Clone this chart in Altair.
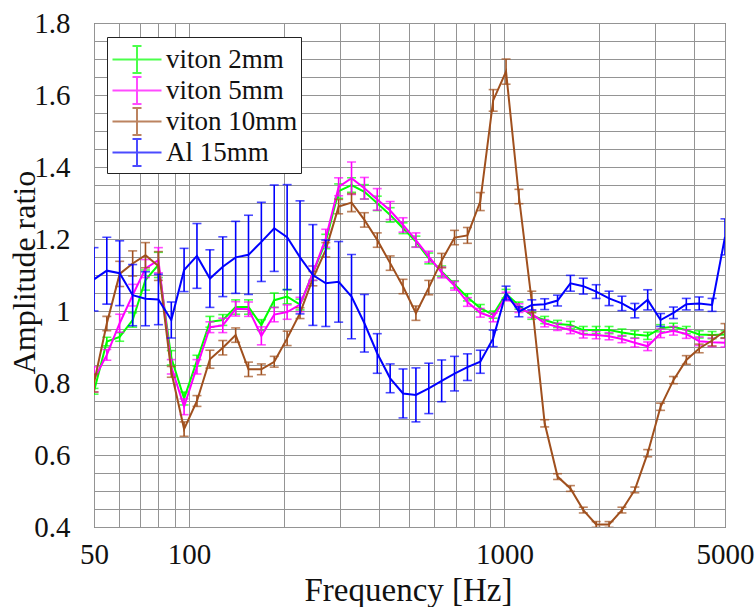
import altair as alt
import pandas as pd

# ---------------- data ----------------
freq = [50, 54.9, 60.3, 66.3, 72.8, 80.0, 87.9, 96.5, 106.0, 116.5,
        128.0, 140.6, 154.4, 169.6, 186.3, 204.7, 224.9, 247.0, 271.4, 298.1,
        327.5, 359.8, 395.2, 434.2, 477.0, 524.0, 575.6, 632.3, 694.6, 763.1,
        838.2, 920.8, 1011.5, 1111.2, 1220.7, 1341.0, 1473.1, 1618.2, 1777.7, 1952.9,
        2145.3, 2356.7, 2588.9, 2844.0, 3124.2, 3432.0, 3770.2, 4141.7, 4549.8, 5000]

series_names = ["viton 2mm", "viton 5mm", "viton 10mm", "Al 15mm"]
series_colors = ["#00ff00", "#ff00ff", "#a0501e", "#0000ff"]

viton2 = [0.777, 0.915, 0.928, 0.975, 1.086, 1.128, 0.870, 0.757, 0.862, 0.970,
          0.975, 1.011, 1.011, 0.961, 1.030, 1.040, 1.018, 1.105, 1.193, 1.333,
          1.350, 1.331, 1.299, 1.267, 1.230, 1.193, 1.146, 1.110, 1.074, 1.038,
          1.008, 0.990, 1.048, 1.015, 0.987, 0.975, 0.964, 0.961, 0.947, 0.947,
          0.947, 0.940, 0.935, 0.931, 0.952, 0.956, 0.947, 0.935, 0.933, 0.935]
viton2_err = [0.008, 0.012, 0.012, 0.020, 0.028, 0.035, 0.020, 0.018, 0.015, 0.015,
              0.015, 0.020, 0.020, 0.015, 0.020, 0.020, 0.015, 0.020, 0.020, 0.020,
              0.020, 0.020, 0.020, 0.020, 0.015, 0.015, 0.015, 0.015, 0.010, 0.010,
              0.010, 0.010, 0.012, 0.010, 0.010, 0.010, 0.010, 0.010, 0.010, 0.010,
              0.010, 0.010, 0.010, 0.010, 0.010, 0.010, 0.010, 0.010, 0.010, 0.010]

viton5 = [0.810, 0.878, 0.966, 1.044, 1.118, 1.141, 0.845, 0.734, 0.845, 0.955,
          0.960, 1.006, 1.005, 0.931, 0.990, 0.997, 1.018, 1.105, 1.202, 1.345,
          1.369, 1.341, 1.310, 1.279, 1.239, 1.197, 1.151, 1.107, 1.070, 1.025,
          0.995, 0.982, 1.040, 1.008, 0.992, 0.966, 0.956, 0.947, 0.935, 0.933,
          0.930, 0.922, 0.912, 0.902, 0.938, 0.945, 0.936, 0.916, 0.913, 0.912]
viton5_err = [0.035, 0.015, 0.025, 0.030, 0.025, 0.035, 0.020, 0.022, 0.020, 0.015,
              0.020, 0.020, 0.020, 0.025, 0.020, 0.020, 0.020, 0.020, 0.025, 0.025,
              0.045, 0.030, 0.030, 0.025, 0.020, 0.020, 0.015, 0.015, 0.012, 0.012,
              0.012, 0.012, 0.012, 0.012, 0.010, 0.010, 0.010, 0.010, 0.010, 0.010,
              0.010, 0.010, 0.012, 0.012, 0.012, 0.012, 0.012, 0.012, 0.012, 0.012]

viton10 = [0.800, 0.965, 1.103, 1.132, 1.155, 1.125, 0.831, 0.672, 0.750, 0.866,
           0.898, 0.933, 0.838, 0.838, 0.859, 0.924, 0.994, 1.090, 1.170, 1.290,
           1.301, 1.253, 1.197, 1.133, 1.068, 0.994, 1.065, 1.140, 1.204, 1.210,
           1.304, 1.585, 1.665, 1.318, 1.025, 0.688, 0.540, 0.507, 0.447, 0.407,
           0.407, 0.447, 0.503, 0.605, 0.734, 0.808, 0.864, 0.896, 0.918, 0.945]
viton10_err = [0.025, 0.020, 0.035, 0.035, 0.035, 0.040, 0.015, 0.020, 0.015, 0.025,
               0.020, 0.020, 0.020, 0.015, 0.015, 0.020, 0.015, 0.020, 0.020, 0.020,
               0.025, 0.020, 0.020, 0.020, 0.020, 0.020, 0.020, 0.020, 0.020, 0.022,
               0.025, 0.030, 0.035, 0.020, 0.030, 0.010, 0.008, 0.008, 0.008, 0.008,
               0.008, 0.008, 0.008, 0.010, 0.010, 0.010, 0.012, 0.012, 0.015, 0.020]

al15 = [1.088, 1.112, 1.105, 1.044, 1.034, 1.032, 0.975, 1.114, 1.153, 1.090,
        1.123, 1.149, 1.156, 1.192, 1.230, 1.205, 1.149, 1.100, 1.077, 1.081,
        1.040, 0.966, 0.882, 0.813, 0.771, 0.767, 0.785, 0.806, 0.826, 0.844,
        0.859, 0.924, 1.050, 0.998, 1.017, 1.019, 1.029, 1.077, 1.069, 1.054,
        1.035, 1.021, 1.001, 1.031, 0.975, 0.995, 1.019, 1.021, 1.017, 1.206]
al15_err = [0.088, 0.093, 0.090, 0.085, 0.075, 0.070, 0.050, 0.060, 0.090, 0.080,
            0.083, 0.100, 0.110, 0.110, 0.120, 0.146, 0.157, 0.140, 0.120, 0.112,
            0.117, 0.080, 0.055, 0.040, 0.068, 0.075, 0.070, 0.058, 0.048, 0.037,
            0.032, 0.023, 0.019, 0.014, 0.014, 0.015, 0.015, 0.022, 0.022, 0.019,
            0.020, 0.020, 0.020, 0.028, 0.018, 0.016, 0.016, 0.018, 0.018, 0.050]

x_grid = [50, 60, 70, 80, 90, 100, 200, 300, 400, 500, 600, 700, 800, 900,
          1000, 2000, 3000, 4000, 5000]
x_labels = [50, 100, 1000, 5000]
y_grid = [round(0.4 + 0.05 * i, 2) for i in range(29)]

# ---------------- table ----------------
rows = []
for name, vals, errs in zip(series_names,
                            [viton2, viton5, viton10, al15],
                            [viton2_err, viton5_err, viton10_err, al15_err]):
    for f, v, e in zip(freq, vals, errs):
        rows.append({"freq": f, "value": v, "lo": v - e, "hi": v + e, "series": name})
df = pd.DataFrame(rows)

FONT = "'Liberation Serif', 'DejaVu Serif', 'Times New Roman', serif"

xscale = alt.Scale(type="log", domain=[50, 5000], nice=False)
yscale = alt.Scale(domain=[0.4, 1.8], nice=False, zero=False)
cscale = alt.Scale(domain=series_names, range=series_colors)

label_test = "indexof([" + ",".join(str(v) for v in x_labels) + "], datum.value) >= 0"
xaxis = alt.Axis(values=x_grid,
                 labelExpr=label_test + " ? '' + datum.value : ''",
                 title="Frequency [Hz]", grid=True, ticks=False, domain=False,
                 labelPadding=13, labelFontSize=29, labelFont=FONT, labelColor="#111",
                 labelFlush=False, labelOverlap=False,
                 titleFontSize=33, titleFont=FONT, titleFontWeight="normal", titleColor="#111",
                 titleX=314, titleY=73, titleBaseline="alphabetic")
yaxis = alt.Axis(values=y_grid,
                 labelExpr="abs(datum.value*5 - round(datum.value*5)) < 0.001 ? format(datum.value, '~g') : ''",
                 title="Amplitude ratio", grid=True, ticks=False, domain=False,
                 labelPadding=24, labelFontSize=29, labelFont=FONT, labelColor="#111",
                 labelFlush=False, labelOverlap=False,
                 titleFontSize=32, titleFont=FONT, titleFontWeight="normal", titleColor="#111",
                 titleX=-53, titleY=249, titleAngle=270, titleBaseline="bottom")

LEGEND_PATH = ("M-1.96,0L1.96,0M0,-1.08L0,1.08"
               "M-0.36,-1.08L0.36,-1.08M-0.36,1.08L0.36,1.08")
legend = alt.Legend(title=" ", titleFontSize=6, titlePadding=0, orient="none",
                    legendX=13, legendY=14,
                    symbolType=LEGEND_PATH, symbolSize=625, symbolStrokeWidth=2,
                    symbolFillColor="transparent",
                    symbolOffset=13.5, labelOffset=15.5, labelFont=FONT, labelFontSize=27,
                    labelColor="#111", labelLimit=400, padding=3, rowPadding=-9,
                    strokeColor="#222", fillColor="white")

base = alt.Chart(df)
col = alt.Color("series:N", scale=cscale, legend=legend, sort=series_names)
x = alt.X("freq:Q", scale=xscale, axis=xaxis)
layers = []
for name in series_names:
    sub = base.transform_filter(alt.datum.series == name)
    layers.append(sub.mark_line(strokeWidth=2, clip=True).encode(
        x=x, y=alt.Y("value:Q", scale=yscale, axis=yaxis), color=col))
    layers.append(sub.mark_rule(strokeWidth=1.6, clip=True).encode(
        x=x, y=alt.Y("lo:Q", scale=yscale, axis=yaxis), y2="hi:Q", color=col))
    layers.append(sub.mark_tick(orient="horizontal", size=9, thickness=1.6, clip=True).encode(
        x=x, y=alt.Y("lo:Q", scale=yscale, axis=yaxis), color=col))
    layers.append(sub.mark_tick(orient="horizontal", size=9, thickness=1.6, clip=True).encode(
        x=x, y=alt.Y("hi:Q", scale=yscale, axis=yaxis), color=col))

chart = alt.layer(*layers).properties(
    width=631, height=504,
    autosize=alt.AutoSizeParams(type="none"),
    padding={"left": 94, "top": 23, "right": 31, "bottom": 80},
    background="white",
).configure(
    font=FONT
).configure_view(
    stroke="#444", strokeWidth=1
).configure_axis(
    gridColor="#949494", gridWidth=1, gridOpacity=1
)

chart.save("out.html", embed_options={"renderer": "svg", "actions": False})
